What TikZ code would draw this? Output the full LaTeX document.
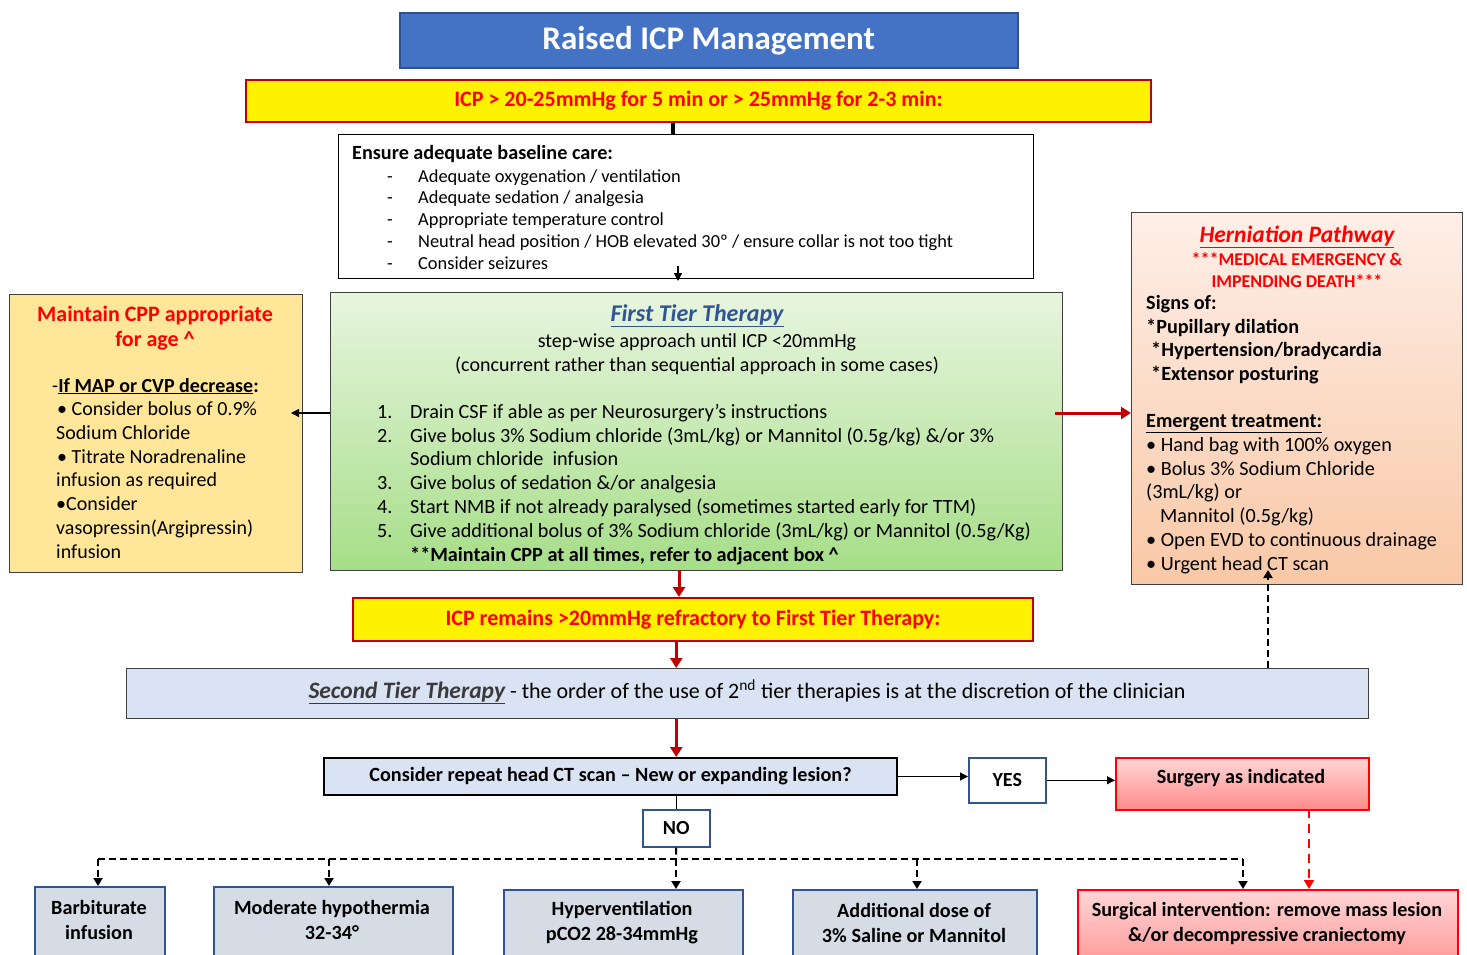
\documentclass[tikz,border=0pt]{standalone}
\usepackage{fontspec}
\setmainfont{Carlito}
\usetikzlibrary{arrows.meta}
\definecolor{titleblue}{HTML}{4472C4}
\definecolor{titleborder}{HTML}{2F528F}
\definecolor{darkred}{HTML}{C00000}
\definecolor{boxgray}{HTML}{404040}
\definecolor{cppfill}{HTML}{FFE699}
\definecolor{greentop}{HTML}{E8F5DF}
\definecolor{greenbot}{HTML}{A6DE88}
\definecolor{herntop}{HTML}{FEEFE8}
\definecolor{hernbot}{HTML}{F9C8A6}
\definecolor{navy}{HTML}{2F5597}
\definecolor{tierblue}{HTML}{DAE3F3}
\definecolor{botfill}{HTML}{D6DCE5}
\definecolor{bluebord}{HTML}{2F5597}
\definecolor{pinktop}{HTML}{FFD6D6}
\definecolor{pinkbot}{HTML}{FF8A8A}
\definecolor{headgray}{HTML}{3A3A3A}
\newcommand\fsz[2]{\fontsize{#1}{#2}\selectfont}
\begin{document}
\begin{tikzpicture}[x=1pt,y=-1pt,
  box/.style={draw=boxgray, line width=1pt, inner sep=0pt, anchor=north west},
  botbox/.style={box, draw=bluebord, line width=2pt, fill=botfill},
  txt/.style={inner sep=0pt},
  arr/.style={-{Triangle[length=8pt,width=8pt]}, line width=1.2pt, black},
  redarr/.style={-{Triangle[length=10pt,width=12pt]}, line width=3pt, darkred},
  dline/.style={line width=2pt, dash pattern=on 7pt off 4pt, black},
  darr/.style={dline, -{Triangle[length=8pt,width=9pt]}},
  rdarr/.style={line width=2pt, dash pattern=on 9pt off 6pt, red, -{Triangle[length=9pt,width=10pt]}},
  bold/.style={font=\bfseries\fsz{20.2}{25}, align=center}
]
\clip (0,0) rectangle (1467,954);
\fill[white] (0,0) rectangle (1467,954);

% title
\node[box, draw=titleborder, line width=1.5pt, fill=titleblue, minimum width=618, minimum height=55,
  text=white, font=\bfseries\fsz{33}{38}] (title) at (399,12) {Raised ICP Management};

% yellow bar 1
\node[box, draw=darkred, line width=2pt, fill=yellow, minimum width=905, minimum height=42,
  text=red, font=\bfseries\fsz{22}{24}] (y1) at (245,79) {ICP > 20-25mmHg for 5 min or > 25mmHg for 2-3 min:};

% baseline care box
\node[box, draw=black, fill=white, minimum width=695, minimum height=144] (base) at (338,134) {};
\node[txt, anchor=base west, font=\bfseries\fsz{20.2}{22}] (baseh) at (352,159) {Ensure adequate baseline care:};
\node[txt, anchor=base west, align=left, font=\fsz{18.4}{21.75}] (basel) at (387,269)
  {\makebox[31pt][l]{-}Adequate oxygenation / ventilation\\
   \makebox[31pt][l]{-}Adequate sedation / analgesia\\
   \makebox[31pt][l]{-}Appropriate temperature control\\
   \makebox[31pt][l]{-}Neutral head position / HOB elevated 30º / ensure collar is not too tight\\
   \makebox[31pt][l]{-}Consider seizures};

% left CPP box
\node[box, fill=cppfill, minimum width=293, minimum height=278] (cpp) at (9,294) {};
\node[txt, anchor=base, align=center, font=\bfseries\fsz{22}{25}, text=red] (cppt) at (155,346)
  {Maintain CPP appropriate\\for age \textasciicircum};
\node[txt, anchor=base west, align=left, font=\fsz{20}{23.7}] (cppb) at (52,558)
  {-\textbf{\underline{If MAP or CVP decrease}:}\\
   \hspace*{5pt}•~Consider bolus of 0.9\%\\
   \hspace*{4pt}Sodium Chloride\\
   \hspace*{5pt}•~Titrate Noradrenaline\\
   \hspace*{4pt}infusion as required\\
   \hspace*{4pt}•Consider\\
   \hspace*{4pt}vasopressin(Argipressin)\\
   \hspace*{4pt}infusion};

% first tier box
\node[box, top color=greentop, bottom color=greenbot, minimum width=732, minimum height=278] (green) at (330,292) {};
\node[txt, anchor=base, font=\bfseries\itshape\fsz{24}{28}, text=navy] (ftt) at (697,321) {\underline{First Tier Therapy}};
\node[txt, anchor=base, align=center, font=\fsz{20}{24}] (fts) at (697,371)
  {step-wise approach until ICP <20mmHg\\(concurrent rather than sequential approach in some cases)};
\node[txt, anchor=base west, align=left, font=\fsz{20.2}{23.8}] (ftl) at (377,561)
  {\makebox[33pt][l]{1.}Drain CSF if able as per Neurosurgery’s instructions\\
   \makebox[33pt][l]{2.}Give bolus 3\% Sodium chloride (3mL/kg) or Mannitol (0.5g/kg) \&/or 3\%\\
   \hspace*{33pt}Sodium chloride\ \ infusion\\
   \makebox[33pt][l]{3.}Give bolus of sedation \&/or analgesia\\
   \makebox[33pt][l]{4.}Start NMB if not already paralysed (sometimes started early for TTM)\\
   \makebox[33pt][l]{5.}Give additional bolus of 3\% Sodium chloride (3mL/kg) or Mannitol (0.5g/Kg)\\
   \hspace*{33pt}\textbf{**Maintain CPP at all times, refer to adjacent box \textasciicircum}};

% herniation box
\node[box, top color=herntop, bottom color=hernbot, minimum width=331, minimum height=372] (hern) at (1131,212) {};
\node[txt, anchor=base, font=\bfseries\itshape\fsz{23.5}{27}, text=red] (hernt) at (1297,242) {\underline{Herniation Pathway}};
\node[txt, anchor=base, align=center, font=\bfseries\fsz{18}{22}, text=red] (hernr) at (1297,287)
  {***MEDICAL EMERGENCY \&\\IMPENDING DEATH***};
\node[txt, anchor=base west, align=left, font=\fsz{20.2}{23.7}] (hernb) at (1146,570)
  {\textbf{Signs of:}\\
   \textbf{*Pupillary dilation}\\
   \hspace*{5pt}\textbf{*Hypertension/bradycardia}\\
   \hspace*{5pt}\textbf{*Extensor posturing}\\[23.7pt]
   \textbf{\underline{Emergent treatment:}}\\
   •~Hand bag with 100\% oxygen\\
   •~Bolus 3\% Sodium Chloride\\
   (3mL/kg) or\\
   \hspace*{14pt}Mannitol (0.5g/kg)\\
   •~Open EVD to continuous drainage\\
   •~Urgent head CT scan};

% yellow bar 2
\node[box, draw=darkred, line width=2pt, fill=yellow, minimum width=680, minimum height=43,
  text=red, font=\bfseries\fsz{22}{24}] (y2) at (352,597) {ICP remains >20mmHg refractory to First Tier Therapy:};

% second tier
\node[box, fill=tierblue, minimum width=1242, minimum height=50] (second) at (126,668) {};
\node[txt, font=\fsz{22}{24}] (sect) at (747,692)
  {{\color{headgray}\bfseries\itshape\fsz{23.5}{24}\underline{Second Tier Therapy}} - the order of the use of 2\textsuperscript{nd} tier therapies is at the discretion of the clinician};

% CT decision row
\node[box, draw=black, line width=2pt, fill=tierblue, minimum width=573, minimum height=37,
  font=\bfseries\fsz{20.2}{24}] (ct) at (323,757) {Consider repeat head CT scan – New or expanding lesion?};
\node[box, draw=bluebord, line width=1.5pt, fill=white, minimum width=77, minimum height=45,
  font=\bfseries\fsz{20}{24}] (yes) at (968,757) {YES};
\node[box, draw=red, line width=2pt, top color=pinktop, bottom color=pinkbot, minimum width=253, minimum height=52] (surg) at (1115,757) {};
\node[txt, font=\bfseries\fsz{20.2}{24}] (surgt) at (1241,778) {Surgery as indicated};
\node[box, draw=bluebord, line width=1.5pt, fill=white, minimum width=67, minimum height=37,
  font=\bfseries\fsz{20}{24}] (no) at (642,809) {NO};

% bottom boxes
\node[botbox, minimum width=130, minimum height=90] (barb) at (34,886) {};
\node[txt, bold] (barbt) at (99,920) {Barbiturate\\infusion};
\node[botbox, minimum width=239, minimum height=90] (hypo) at (213,886) {};
\node[txt, bold] (hypot) at (332,920) {Moderate hypothermia\\32-34°};
\node[botbox, minimum width=239, minimum height=90] (hyper) at (503,889) {};
\node[txt, bold] (hypert) at (622,923) {Hyperventilation\\pCO2 28-34mmHg};
\node[botbox, minimum width=244, minimum height=90] (addl) at (792,889) {};
\node[txt, bold] (addlt) at (914,923) {Additional dose of\\3\% Saline or Mannitol};
\node[box, draw=red, line width=2pt, top color=pinktop, bottom color=pinkbot, minimum width=380, minimum height=90] (surgi) at (1077,889) {};
\node[txt, bold] (surgit) at (1267,923) {Surgical intervention: remove mass lesion\\\&/or decompressive craniectomy};

% coordinates
\coordinate (ga) at (678,266);
\coordinate (gl) at (330,413);
\coordinate (gr) at (1062,413);
\coordinate (gd) at (679,570);
\coordinate (up) at (1268,668);
\coordinate (sd) at (1309,809);
\coordinate (b1) at (98,859);
\coordinate (b2) at (329,859);
\coordinate (b3) at (676,859);
\coordinate (b4) at (917,859);
\coordinate (b5) at (1243,859);

% connectors
\draw[line width=3.5pt, black] (y1.south -| 673,0) -- (base.north -| 673,0);
\draw[arr, shorten >=11pt] (ga) -- (ga |- green.north);
\draw[arr, shorten >=-12pt] (gl) -- (gl -| cpp.east);
\draw[redarr, shorten <=-7pt] (gr) -- (gr -| hern.west);
\draw[redarr] (gd) -- (gd |- y2.north);
\draw[redarr] (y2.south -| no.north) -- (second.north -| no.north);
\draw[redarr] (second.south -| no.north) -- (ct.north -| no.north);
\draw[darr, shorten >=-15pt] (up) -- (up |- hern.south);
\draw[arr] (ct.east) -- (ct.east -| yes.west);
\draw[arr] (yes.east) -- (yes.east -| surg.west);
\draw[rdarr] (sd) -- (sd |- surgi.north);
\draw[line width=1.5pt] (ct.south -| no.north) -- (no.north);
\draw[dline] (no.south) -- (b3);
\draw[dline] (b1) -- (b5);
\draw[darr] (b1) -- (b1 |- barb.north);
\draw[darr] (b2) -- (b2 |- hypo.north);
\draw[darr] (b3) -- (b3 |- hyper.north);
\draw[darr] (b4) -- (b4 |- addl.north);
\draw[darr] (b5) -- (b5 |- surgi.north);
\end{tikzpicture}
\end{document}
